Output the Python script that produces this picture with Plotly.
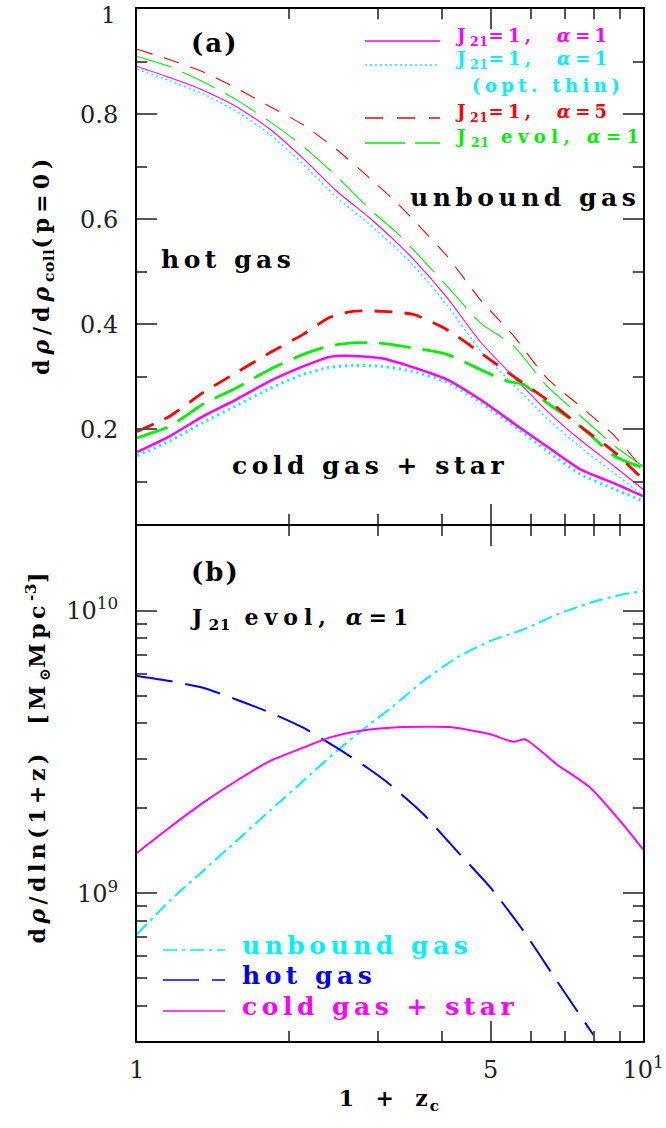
import plotly.graph_objects as go

# ---------------- panel (a): fraction of collapsed gas ----------------
# upper (thin) curves: boundary between hot gas and unbound gas
z_top = [1, 1.16, 1.35, 1.57, 1.83, 2.13, 2.48, 2.88, 3.25, 3.52, 4.1, 4.77, 5.55, 6.45, 7.52, 8.8, 10]
hot_j1_a1 = [0.891, 0.870, 0.846, 0.815, 0.772, 0.716, 0.654, 0.603, 0.557, 0.524, 0.451, 0.367, 0.300, 0.236, 0.180, 0.129, 0.086]
hot_j1_a1_thin = [0.886, 0.864, 0.839, 0.806, 0.762, 0.705, 0.642, 0.591, 0.545, 0.512, 0.437, 0.350, 0.285, 0.222, 0.166, 0.116, 0.074]
hot_j1_a5 = [0.924, 0.904, 0.881, 0.850, 0.815, 0.780, 0.733, 0.679, 0.633, 0.599, 0.530, 0.447, 0.378, 0.298, 0.244, 0.187, 0.124]
hot_jev_a1 = [0.910, 0.891, 0.862, 0.828, 0.786, 0.739, 0.682, 0.620, 0.576, 0.542, 0.473, 0.403, 0.359, 0.283, 0.226, 0.168, 0.130]

# lower (thick) curves: boundary between cold gas + star and hot gas
z_low = [1, 1.16, 1.35, 1.57, 1.83, 2.13, 2.40, 2.67, 3.06, 3.52, 4.1, 4.77, 5.55, 6.45, 7.52, 8.8, 10]
cold_j1_a1 = [0.157, 0.187, 0.225, 0.257, 0.292, 0.320, 0.338, 0.340, 0.335, 0.318, 0.295, 0.257, 0.212, 0.168, 0.124, 0.097, 0.073]
cold_j1_a1_thin = [0.150, 0.178, 0.213, 0.245, 0.278, 0.305, 0.318, 0.322, 0.320, 0.310, 0.290, 0.252, 0.207, 0.160, 0.115, 0.086, 0.064]
cold_j1_a5 = [0.196, 0.225, 0.270, 0.308, 0.346, 0.381, 0.413, 0.425, 0.425, 0.419, 0.390, 0.346, 0.301, 0.257, 0.206, 0.156, 0.105]
z_low_ev = [1, 1.16, 1.35, 1.57, 1.83, 2.13, 2.40, 2.67, 3.06, 3.52, 4.1, 4.77, 5.39, 5.8, 6.45, 7.52, 8.8, 10]
cold_jev_a1 = [0.184, 0.206, 0.248, 0.279, 0.314, 0.343, 0.359, 0.365, 0.364, 0.355, 0.343, 0.314, 0.292, 0.286, 0.251, 0.206, 0.149, 0.127]

# ---------------- panel (b): d rho / d ln(1+z)  [Msun Mpc^-3] ----------------
z_unbound = [1, 1.16, 1.35, 1.57, 1.83, 2.13, 2.48, 2.88, 3.17, 3.68, 4.29, 4.99, 5.81, 6.76, 7.86, 9.14, 10]
rate_unbound = [7.16e8, 9.40e8, 1.20e9, 1.53e9, 1.96e9, 2.50e9, 3.19e9, 3.97e9, 4.52e9, 5.65e9, 6.84e9,
                7.83e9, 8.61e9, 9.72e9, 1.069e10, 1.146e10, 1.175e10]
z_hot = [1, 1.16, 1.35, 1.57, 1.83, 2.13, 2.48, 2.88, 3.17, 3.68, 4.29, 4.99, 5.81, 6.76, 8.0]
rate_hot = [5.89e9, 5.65e9, 5.35e9, 4.86e9, 4.37e9, 3.86e9, 3.28e9, 2.75e9, 2.42e9, 1.91e9, 1.41e9,
            1.05e9, 7.35e8, 4.89e8, 3.13e8]
z_cold = [1, 1.16, 1.35, 1.57, 1.83, 2.13, 2.40, 2.67, 3.17, 3.68, 4.16, 4.99, 5.55, 5.85, 6.76, 7.86, 9.14, 10]
rate_cold = [1.39e9, 1.71e9, 2.09e9, 2.50e9, 2.94e9, 3.28e9, 3.56e9, 3.73e9, 3.86e9, 3.89e9, 3.88e9,
             3.66e9, 3.44e9, 3.51e9, 2.86e9, 2.37e9, 1.75e9, 1.43e9]

# axis ticks
x_major = [1, 5, 10]
x_major_text = ["1", "5", "10<sup>1</sup>"]
x_minor = [2, 3, 4, 6, 7, 8, 9]
ya_major = [0.2, 0.4, 0.6, 0.8, 1.0]
ya_major_text = ["0.2", "0.4", "0.6", "0.8", "1"]
ya_minor = [0.1, 0.3, 0.5, 0.7, 0.9]
yb_major = [1e9, 1e10]
yb_major_text = ["10<sup>9</sup>", "10<sup>10</sup>"]
yb_minor = [3e8, 4e8, 5e8, 6e8, 7e8, 8e8, 9e8, 2e9, 3e9, 4e9, 5e9, 6e9, 7e9, 8e9, 9e9, 2e10]

MAG, CYA, RED, GRN, BLU = "#ff00ff", "#00f0ff", "#ff0000", "#00ee00", "#0000f0"
SERIF = "DejaVu Serif"

fig = go.Figure()


def curve(x, y, color, width, dash, xa, ya):
    fig.add_trace(go.Scatter(x=x, y=y, mode="lines", xaxis=xa, yaxis=ya, showlegend=False,
                             hoverinfo="skip",
                             line=dict(color=color, width=width, dash=dash, shape="spline", smoothing=0.6)))


# panel (a) thin curves
curve(z_top, hot_j1_a1_thin, CYA, 1.3, "2px,3px", "x2", "y2")
curve(z_top, hot_j1_a1, MAG, 1.1, "solid", "x2", "y2")
curve(z_top, hot_jev_a1, GRN, 1.1, "36px,12px", "x2", "y2")
curve(z_top, hot_j1_a5, RED, 1.1, "16px,12px", "x2", "y2")
# panel (a) thick curves
curve(z_low, cold_j1_a1_thin, CYA, 3, "2px,4px", "x2", "y2")
curve(z_low, cold_j1_a1, MAG, 2.5, "solid", "x2", "y2")
curve(z_low_ev, cold_jev_a1, GRN, 2.8, "32px,12px", "x2", "y2")
curve(z_low, cold_j1_a5, RED, 2.8, "18px,12px", "x2", "y2")
# panel (b)
curve(z_unbound, rate_unbound, CYA, 2, "14px,5px,3px,5px", "x", "y")
curve(z_hot, rate_hot, BLU, 2, "36px,13px", "x", "y")
curve(z_cold, rate_cold, MAG, 2, "solid", "x", "y")

# plot area in pixels (for placing text and legend keys)
W, H = 666, 1128
ML, MR, MT, MB = 137, 23, 9, 87
PW, PH = W - ML - MR, H - MT - MB


def px(x):
    return (x - ML) / PW


def py(y):
    return (MT + PH - y) / PH


annotations = []


def label(text, x, y, size, color="#000", spacing=None, xanchor="left", angle=0, yanchor="middle",
          weight="bold"):
    a = dict(text=text, x=px(x), y=py(y), xref="paper", yref="paper", showarrow=False,
             xanchor=xanchor, yanchor=yanchor, textangle=angle,
             align={"left": "left", "right": "right"}.get(xanchor, "center"),
             font=dict(family=SERIF, size=size, color=color, weight=weight))
    if spacing:
        a["name"] = spacing
    annotations.append(a)


BIG, KEY, SP, KSP = 25, 18, "4.5px", "4.4px"
alpha = "<i>α</i>"
# panel (a) labels
label("(a)", 189, 43, 26, spacing="2px")
label("hot gas", 159, 259, BIG, spacing=SP)
label("unbound gas", 408, 197, BIG, spacing=SP)
label("cold gas + star", 230, 465, BIG, spacing=SP)
# panel (a) key
label("J<sub>21</sub>=1,  " + alpha + "=1", 453, 37, KEY, MAG, spacing=KSP)
label("J<sub>21</sub>=1,  " + alpha + "=1", 453, 60, KEY, CYA, spacing=KSP)
label("(opt. thin)", 470, 85, KEY, CYA, spacing=KSP)
label("J<sub>21</sub>=1,  " + alpha + "=5", 453, 113, KEY, RED, spacing=KSP)
label("J<sub>21</sub> evol, " + alpha + "=1", 453, 138, KEY, GRN, spacing="5.4px")
# panel (b) labels
label("(b)", 189, 572, 26, spacing="2px")
label("J<sub>21</sub> evol, " + alpha + "=1", 188, 619, 22, spacing="6px")
label("unbound gas", 240, 945, BIG, CYA, spacing=SP)
label("hot gas", 240, 975, BIG, BLU, spacing=SP)
label("cold gas + star", 240, 1006, BIG, MAG, spacing=SP)
# axis titles
label("d<i>ρ</i>/d<i>ρ</i><sub>coll</sub>(p=0)", 43, 265, 22, xanchor="center", angle=-90, spacing="5px")
label("d<i>ρ</i>/dln(1+z)  [M<sub>⊙</sub>Mpc<sup>-3</sup>]", 38, 756, 22, xanchor="center", angle=-90,
      spacing="4.5px")
label("1  +  z<sub>c</sub>", 389, 1100, 22, xanchor="center", spacing="2px")
# the label of the top tick sits at the page edge, so it is placed inside the page
label(ya_major_text[-1], 118, 0, 23, "#222", xanchor="right", yanchor="top", weight="normal")

# legend keys
shapes = []


def key(x0, x1, y, color, dash, width=1.3):
    shapes.append(dict(type="line", xref="paper", yref="paper", x0=px(x0), x1=px(x1), y0=py(y), y1=py(y),
                       line=dict(color=color, width=width, dash=dash)))


key(365, 440, 41, MAG, "solid")
key(365, 440, 65, CYA, "2px,3px")
key(365, 440, 118, RED, "18px,14px")
key(365, 440, 143, GRN, "40px,10px")
key(163, 225, 950, CYA, "14px,5px,3px,5px")
key(163, 225, 980, BLU, "36px,13px")
key(163, 225, 1011, MAG, "solid")

tickfont = dict(family=SERIF, size=24, color="#222")
common = dict(showgrid=False, zeroline=False, showline=True, linecolor="#000", linewidth=2,
              ticks="inside", ticklen=20, tickwidth=1.5, tickcolor="#555", mirror="allticks",
              tickfont=tickfont, ticklabeloverflow="allow", automargin=False)
minor_style = dict(ticks="inside", ticklen=10, tickwidth=1.5, tickcolor="#555", showgrid=False)

# the two panels overlap by the frame width so their shared edge is a single line
gap = 1 / PH

fig.update_layout(
    width=W, height=H, margin=dict(l=ML, r=MR, t=MT, b=MB, autoexpand=False),
    paper_bgcolor="#fff", plot_bgcolor="#fff", showlegend=False,
    xaxis=dict(type="log", range=[0, 1], anchor="y", tickvals=x_major, ticktext=x_major_text,
               minor=dict(tickvals=x_minor, **minor_style), ticklabelstandoff=6, **common),
    xaxis2=dict(type="log", range=[0, 1], anchor="y2", matches="x", tickvals=x_major,
                showticklabels=False, minor=dict(tickvals=x_minor, **minor_style), **common),
    yaxis=dict(type="log", range=[8.477, 10.301], domain=[0, 0.5 - gap], anchor="x",
               tickvals=yb_major, ticktext=yb_major_text,
               minor=dict(tickvals=yb_minor, **minor_style), ticklabelstandoff=12, **common),
    yaxis2=dict(range=[0.02, 1.0005], domain=[0.5 + gap, 1], anchor="x2", tickvals=ya_major,
                ticktext=ya_major_text[:-1] + [""],
                minor=dict(tickvals=ya_minor, **minor_style), ticklabelstandoff=12, **common),
    annotations=annotations, shapes=shapes,
)

# letter spacing for annotations that carry a spacing value in their name;
# sub/superscripts stay tight
spacing_js = """
var gd = document.getElementById('{plot_id}');
var anns = gd.layout.annotations || [];
gd.querySelectorAll('g.annotation').forEach(function (g) {
  var a = anns[+g.getAttribute('data-index')];
  if (!a || !a.name) return;
  var t = g.querySelector('text.annotation-text');
  t.style.letterSpacing = a.name;
  t.querySelectorAll('tspan').forEach(function (s) {
    if (s.style.fontSize) s.style.letterSpacing = '0.5px';
  });
});
"""

fig.write_html("out.html", post_script=spacing_js, config=dict(displayModeBar=False))
